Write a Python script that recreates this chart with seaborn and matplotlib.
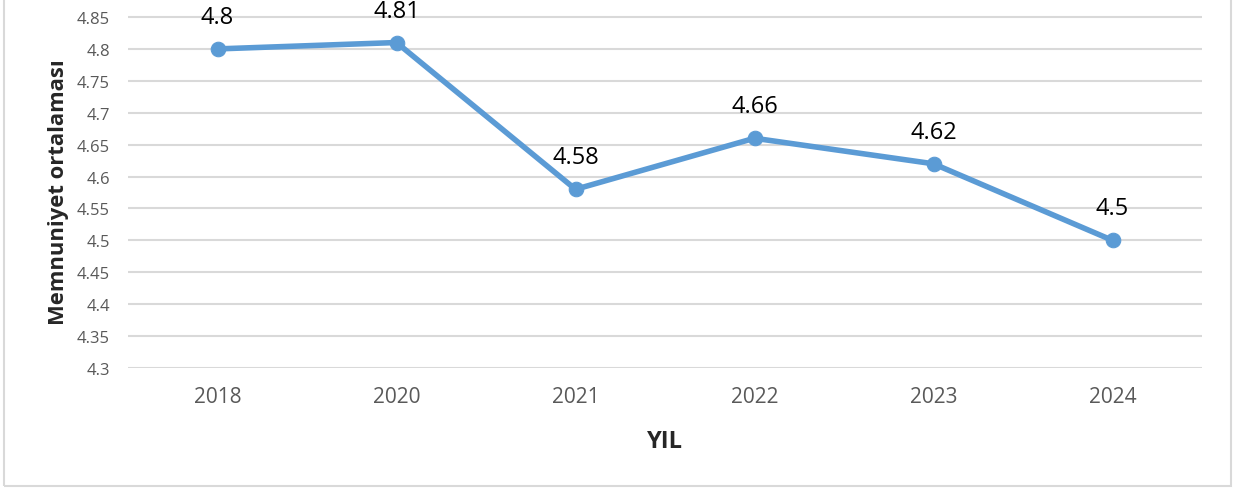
import matplotlib
matplotlib.use('Agg')
import matplotlib.pyplot as plt
import seaborn as sns
import pandas as pd
from matplotlib.patches import Rectangle

years = ["2018", "2020", "2021", "2022", "2023", "2024"]
scores = [4.8, 4.81, 4.58, 4.66, 4.62, 4.5]
yticks = [4.3, 4.35, 4.4, 4.45, 4.5, 4.55, 4.6, 4.65, 4.7, 4.75, 4.8, 4.85]

df = pd.DataFrame({"YIL": years, "score": scores})

sns.set_style("white")
plt.rcParams['font.family'] = ['Open Sans', 'DejaVu Sans']

fig = plt.figure(figsize=(12.44, 4.89), dpi=100)
ax = fig.add_axes([128/1244, 1 - 369/489, (1202-128)/1244, 369/489])

blue = "#5B9BD5"
sns.lineplot(data=df, x="YIL", y="score", ax=ax, color=blue, linewidth=4,
             marker="o", markersize=10.5, markeredgecolor=blue, sort=False)

for i, v in enumerate(scores):
    ax.annotate(f"{v:g}", (i, v), xytext=(0, 23), textcoords="offset points",
                ha="center", va="center", fontsize=17, color="black")

ax.set_xlim(-0.5, 5.5)
ax.set_ylim(4.3, 4.85 + 18/31.9*0.05)
ax.set_yticks(yticks)
ax.set_yticklabels([f"{t:g}" for t in yticks])
ax.yaxis.grid(True, color="#D9D9D9", linewidth=1.5)
ax.xaxis.grid(False)
for s in ax.spines.values():
    s.set_visible(False)
ax.tick_params(axis="y", length=0, pad=13, labelsize=12, labelcolor="#595959")
ax.tick_params(axis="x", length=0, pad=13, labelsize=15, labelcolor="#595959")

ax.set_xlabel("YIL", fontsize=17, fontweight="bold")
ax.set_ylabel("Memnuniyet ortalaması", fontsize=15.8, fontweight="bold")
ax.xaxis.set_label_coords(0.5, -0.165)
ax.yaxis.set_label_coords(-59/1074, 0.48)

fig.patches.append(Rectangle((4/1244, 2/489), (1231-4)/1244, 1.0, transform=fig.transFigure,
                             fill=False, edgecolor="#D9D9D9", linewidth=1.5, zorder=0))

fig.savefig("out.png", dpi=100)
